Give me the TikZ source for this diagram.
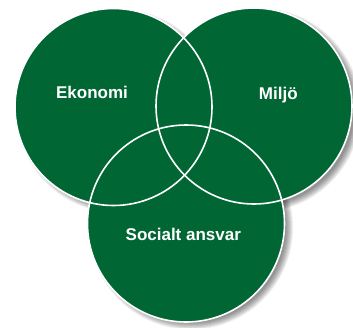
\documentclass[tikz,border=0pt]{standalone}
\usepackage{fontspec}
\setmainfont{Liberation Sans}
\definecolor{vgreen}{RGB}{0,103,52}
\begin{document}
\begin{tikzpicture}[x=1pt,y=-1pt,
  ring/.style={draw=white,line width=1.6pt},
  label/.style={text=white,font=\bfseries\fontsize{17}{20}\selectfont,anchor=base,inner sep=0pt}]
\useasboundingbox (0,0) rectangle (353,327);
% soft shadows
\foreach \cx/\cy in {254/106, 113.5/107, 186/223.5}{
  \foreach \d in {0,1,...,7}{
    \fill[black,opacity=0.065] (\cx+5,\cy+4) circle ({98.5+3.5-\d});
  }
}
% fills
\fill[vgreen] (254,106) circle (98);
\fill[vgreen] (113.5,107) circle (98.5);
\fill[vgreen] (186,223.5) circle (98.5);
% outlines
\node[circle,minimum size=197pt,inner sep=0pt,ring] (eko) at (113.5,107) {};
\node[circle,minimum size=196pt,inner sep=0pt,ring] (mil) at (254,106) {};
\node[circle,minimum size=197pt,inner sep=0pt,ring] (soc) at (186,223.5) {};
% labels
\node[label] (teko) at (92,98.5) {Ekonomi};
\node[label] (tmil) at (278.3,99) {Miljö};
\node[label] (tsoc) at (183.3,240.7) {Socialt ansvar};
\end{tikzpicture}
\end{document}
